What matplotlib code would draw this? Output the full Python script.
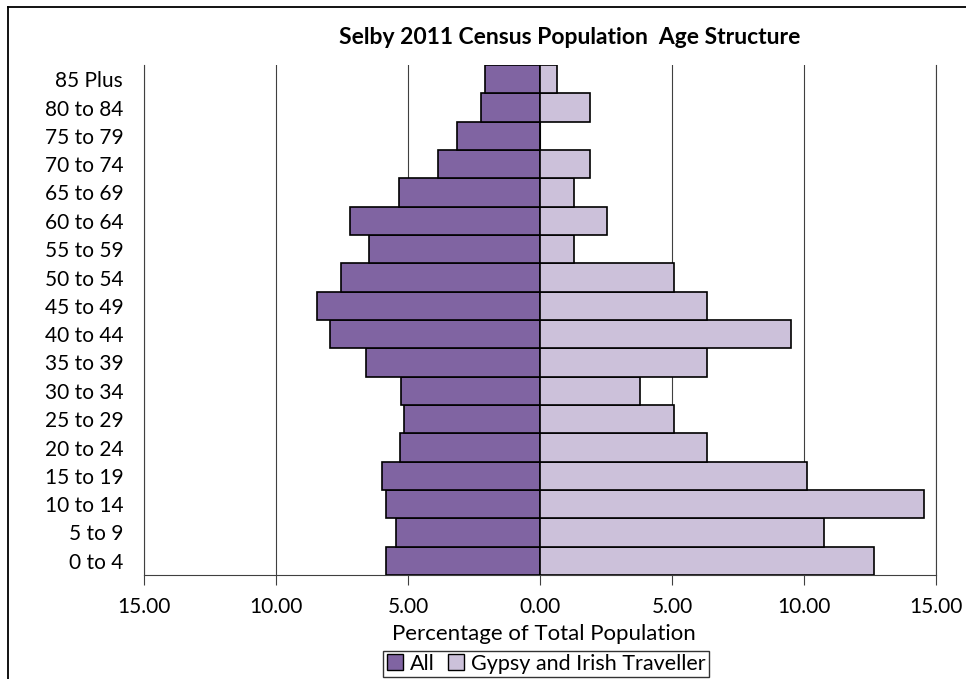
import matplotlib
matplotlib.use("Agg")
from matplotlib import pyplot as plt
from matplotlib.ticker import FuncFormatter
from matplotlib.lines import Line2D

plt.rcParams['font.family'] = ['Lato', 'DejaVu Sans']

# age bands, bottom to top
ages = ["0 to 4", "5 to 9", "10 to 14", "15 to 19", "20 to 24", "25 to 29",
        "30 to 34", "35 to 39", "40 to 44", "45 to 49", "50 to 54", "55 to 59",
        "60 to 64", "65 to 69", "70 to 74", "75 to 79", "80 to 84", "85 Plus"]

# percentage of total population
all_pct = [5.83, 5.45, 5.83, 5.98, 5.30, 5.17, 5.28, 6.59, 7.95, 8.43,
           7.54, 6.48, 7.20, 5.34, 3.86, 3.14, 2.23, 2.08]
gypsy_pct = [12.66, 10.76, 14.56, 10.13, 6.33, 5.06, 3.80, 6.33, 9.49, 6.33,
             5.06, 1.27, 2.53, 1.27, 1.90, 0.00, 1.90, 0.63]

col_all = "#8064A2"
col_gypsy = "#CCC1DA"

fig = plt.figure(figsize=(9.66, 6.79), dpi=100)
ax = fig.add_axes([144/966, 1 - 575/679, (936-144)/966, (575-65)/679])

ypos = range(len(ages))
ax.barh(ypos, [-v for v in all_pct], height=1.0, color=col_all,
        edgecolor="black", linewidth=1.2, zorder=3)
ax.barh(ypos, gypsy_pct, height=1.0, color=col_gypsy,
        edgecolor="black", linewidth=1.2, zorder=3)

ax.set_xlim(-15, 15)
ax.set_ylim(-0.5, len(ages) - 0.5)
ax.set_xticks([-15, -10, -5, 0, 5, 10, 15])
ax.xaxis.set_major_formatter(FuncFormatter(lambda v, p: "{:.2f}".format(abs(v))))
ax.set_yticks(list(ypos))
ax.set_yticklabels(ages)
ax.tick_params(axis="x", length=7, width=0.8, color="#404040", labelsize=15, pad=9)
ax.tick_params(axis="y", length=0, labelsize=15, pad=15)

ax.xaxis.grid(True, color="#404040", linewidth=0.8, zorder=0)
ax.set_axisbelow(True)
ax.spines["top"].set_visible(False)
for s in ["left", "bottom", "right"]:
    ax.spines[s].set_color("#404040")
    ax.spines[s].set_linewidth(0.8)

fig.text(544/966, 1 - 634/679, "Percentage of Total Population",
         ha="center", va="center", fontsize=16)
fig.text(570/966, 1 - 37/679, "Selby 2011 Census Population  Age Structure",
         ha="center", va="center", fontsize=16.5, fontweight="bold")

handles = [Line2D([], [], marker="s", linestyle="none", markersize=12,
                  markerfacecolor=col_all, markeredgecolor="black"),
           Line2D([], [], marker="s", linestyle="none", markersize=12,
                  markerfacecolor=col_gypsy, markeredgecolor="black")]
leg = fig.legend(handles, ["All", "Gypsy and Irish Traveller"], loc="center",
                 bbox_to_anchor=(546/966, 1 - 664/679), ncol=2, fontsize=15.5,
                 frameon=True, fancybox=False, edgecolor="black",
                 handlelength=0.8, handletextpad=0.3, columnspacing=0.6,
                 borderpad=0.15, borderaxespad=0)
leg.get_frame().set_linewidth(1.0)

# outer chart frame (only top and left fall inside the picture)
fig.add_artist(Line2D([8/966, 1], [1 - 7/679, 1 - 7/679], color="black",
                      linewidth=1.3, transform=fig.transFigure))
fig.add_artist(Line2D([8/966, 8/966], [0, 1 - 7/679], color="black",
                      linewidth=1.3, transform=fig.transFigure))

fig.savefig("out.png", dpi=100)
